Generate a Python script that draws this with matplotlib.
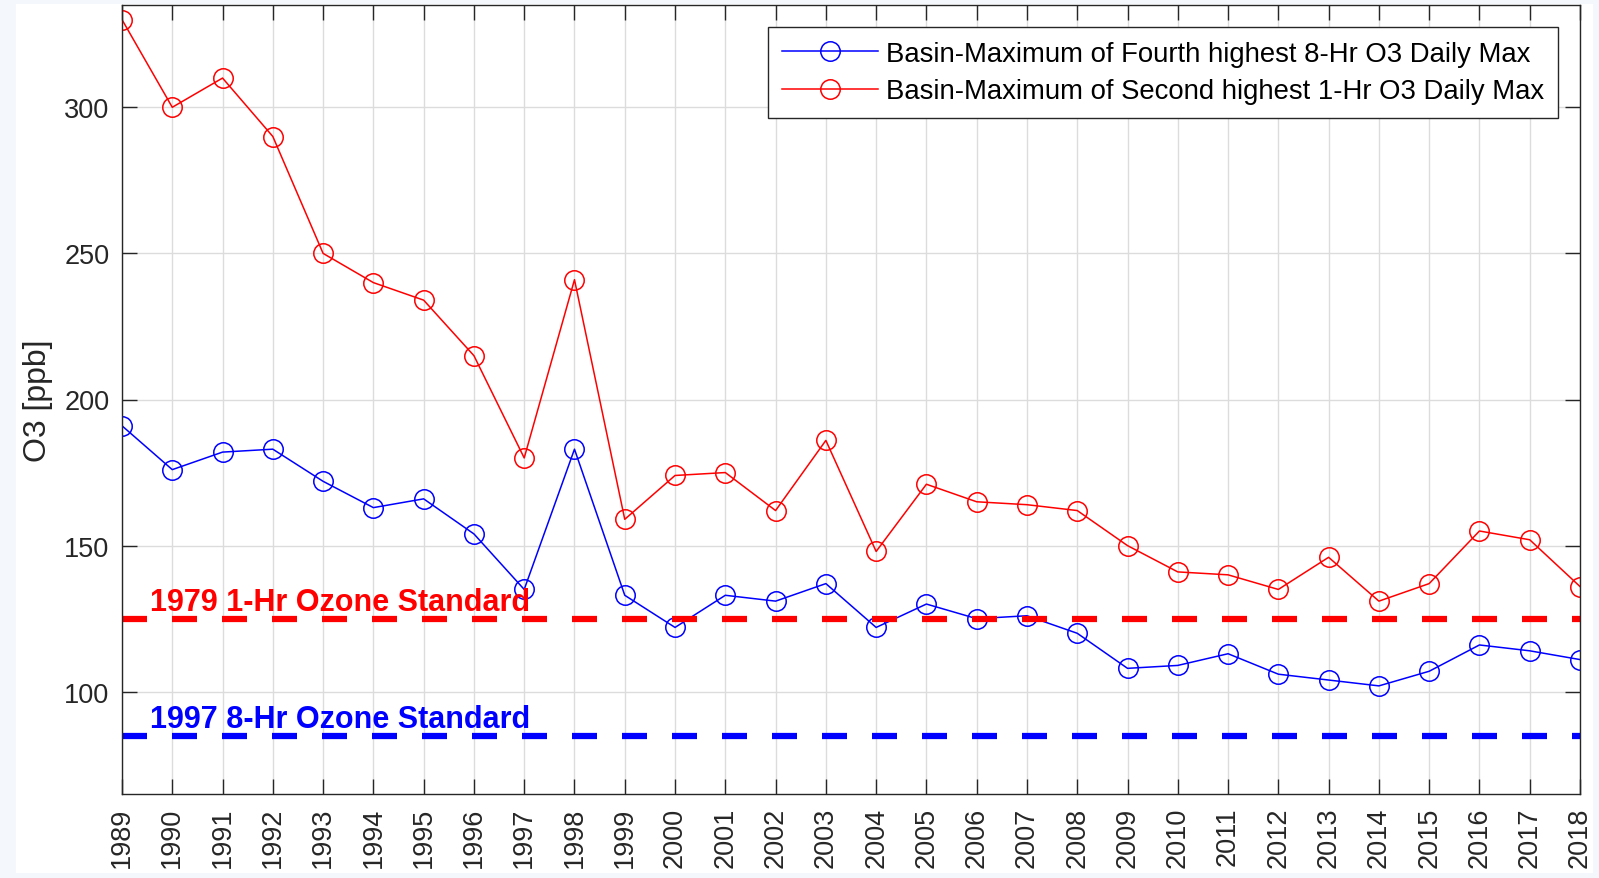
import numpy as np
import matplotlib
matplotlib.use("Agg")
import matplotlib.pyplot as plt
from matplotlib.patches import Rectangle

plt.rcParams['font.family'] = ['Liberation Sans', 'DejaVu Sans']

YEARS   = list(range(1989, 2019))
MAX_1HR = [330, 300, 310, 290, 250, 240, 234, 215, 180, 241,
           159, 174, 175, 162, 186, 148, 171, 165, 164, 162,
           150, 141, 140, 135, 146, 131, 137, 155, 152, 136]
MAX_8HR = [191, 176, 182, 183, 172, 163, 166, 154, 135, 183,
           133, 122, 133, 131, 137, 122, 130, 125, 126, 120,
           108, 109, 113, 106, 104, 102, 107, 116, 114, 111]
STD_1HR = 125
STD_8HR = 85
LABELS  = ["Basin-Maximum of Fourth highest 8-Hr O3 Daily Max",
           "Basin-Maximum of Second highest 1-Hr O3 Daily Max"]

W, H = 1599, 879
fig = plt.figure(figsize=(W / 100, H / 100), dpi=100, facecolor='#f4f7fb')
fig.patches.append(Rectangle((16 / W, 5 / H), (1593 - 16) / W, (874 - 5) / H,
                             transform=fig.transFigure, fc='white', ec='none', zorder=-1))
ax = fig.add_axes([122 / W, (H - 795) / H, (1580 - 122) / W, (795 - 6) / H])

dark = '#262626'
ax.plot(YEARS, MAX_8HR, color='blue', lw=1.1, marker='o', ms=14, mfc='none', mew=1.1, label=LABELS[0])
ax.plot(YEARS, MAX_1HR, color='red', lw=1.1, marker='o', ms=14, mfc='none', mew=1.1, label=LABELS[1])

## standard lines + labels
ax.plot([YEARS[0], YEARS[-1]], [STD_1HR] * 2, color='red', lw=4.5, dashes=(4, 4))
ax.plot([YEARS[0], YEARS[-1]], [STD_8HR] * 2, color='blue', lw=4.5, dashes=(4, 4))
ax.text(1989.55, STD_1HR + 3, "1979 1-Hr Ozone Standard", color='red', fontsize=22, fontweight='bold')
ax.text(1989.55, STD_8HR + 3, "1997 8-Hr Ozone Standard", color='blue', fontsize=22, fontweight='bold')

ax.set_xlim(YEARS[0], YEARS[-1]); ax.set_ylim(65, 335)
ax.set_xticks(YEARS); ax.set_xticklabels([str(y) for y in YEARS], rotation=90)
ax.set_yticks([100, 150, 200, 250, 300])
ax.set_ylabel('O3 [ppb]', fontsize=23, color=dark, labelpad=8)
ax.tick_params(direction='in', length=10.5, width=1, colors=dark, labelsize=19.5,
               top=True, right=True, pad=9)
ax.grid(True, color='#dcdcdc', lw=1)
ax.set_axisbelow(True)
for s in ax.spines.values():
    s.set_color(dark); s.set_linewidth(1)

leg = ax.legend(loc='upper right', fontsize=19.8, fancybox=False, framealpha=1, edgecolor=dark,
                handlelength=3.5, handletextpad=0.3, borderpad=0.5, labelspacing=0.42,
                borderaxespad=0.8)
leg.get_frame().set_linewidth(1)

fig.savefig('out.png', dpi=100, facecolor=fig.get_facecolor())
